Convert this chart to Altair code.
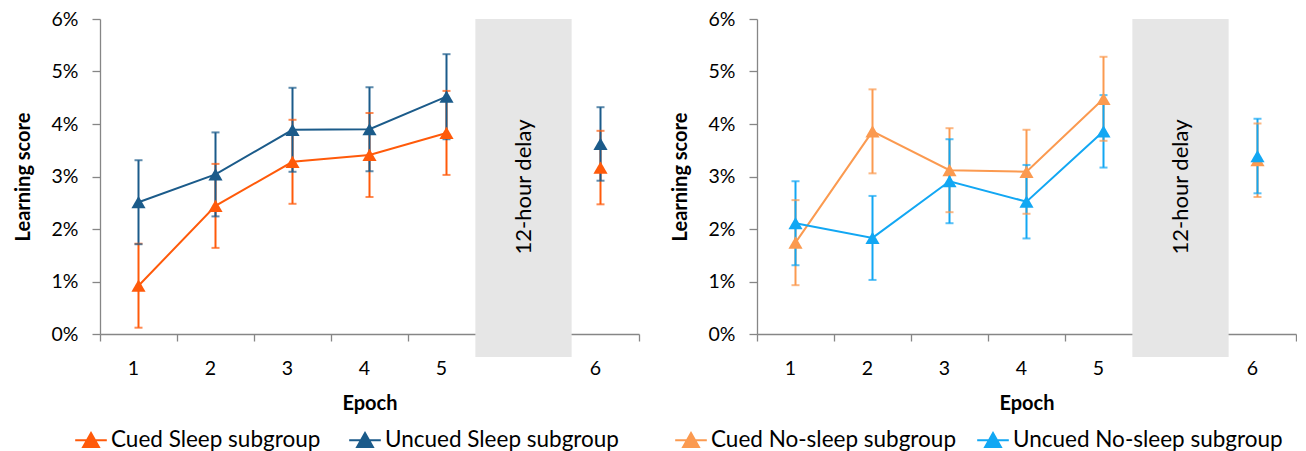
import altair as alt
import pandas as pd

FONT = "Lato"

epochs = ["1", "2", "3", "4", "5", "6"]
slots = ["1", "2", "3", "4", "5", "gap", "6"]

cued_sleep = [0.92, 2.44, 3.28, 3.41, 3.83, 3.17]
cued_sleep_err = [0.80, 0.80, 0.80, 0.80, 0.80, 0.70]
uncued_sleep = [2.51, 3.04, 3.89, 3.90, 4.52, 3.62]
uncued_sleep_err = [0.80, 0.80, 0.80, 0.80, 0.81, 0.70]

cued_nosleep = [1.74, 3.86, 3.12, 3.09, 4.48, 3.31]
cued_nosleep_err = [0.81, 0.80, 0.80, 0.80, 0.80, 0.70]
uncued_nosleep = [2.11, 1.83, 2.91, 2.52, 3.86, 3.39]
uncued_nosleep_err = [0.80, 0.80, 0.80, 0.70, 0.69, 0.71]

left_names = ["Cued Sleep subgroup", "Uncued Sleep subgroup"]
left_colors = ["#ff5a0a", "#1b5b8a"]
right_names = ["Cued No-sleep subgroup", "Uncued No-sleep subgroup"]
right_colors = ["#fb9a50", "#12a7f3"]

delay_label = "12-hour delay"

LEGEND_PATH = "M-1,0H1M0,-0.46L0.5,0.42L-0.5,0.42Z"


def make_df(names, series, errs):
    rows = []
    for name, vals, es in zip(names, series, errs):
        for ep, v, e in zip(epochs, vals, es):
            rows.append({"epoch": ep, "group": name, "score": v,
                         "lo": v - e, "hi": v + e})
    return pd.DataFrame(rows)


def panel(names, colors, series, errs, legend_x, col_pad):
    df = make_df(names, series, errs)
    base = alt.Chart(df)
    x = alt.X("epoch:N", scale=alt.Scale(domain=slots, paddingInner=0, paddingOuter=0),
              sort=slots,
              axis=alt.Axis(title="Epoch", labelExpr="datum.value == 'gap' ? '' : datum.value",
                            labelAngle=0, tickBand="extent", tickSize=7, labelPadding=27,
                            titlePadding=16))
    y = alt.Y("score:Q", scale=alt.Scale(domain=[0, 6], nice=False),
              axis=alt.Axis(title="Learning score", values=[0, 1, 2, 3, 4, 5, 6],
                            labelExpr="datum.value + '%'", tickSize=8, labelPadding=14,
                            titlePadding=18, grid=False))
    color = alt.Color("group:N", scale=alt.Scale(domain=names, range=colors),
                      sort=names,
                      legend=alt.Legend(title=None, orient="none", direction="horizontal",
                                        legendX=legend_x, legendY=404,
                                        symbolType=LEGEND_PATH, symbolSize=1000,
                                        symbolStrokeWidth=2, labelFontSize=22.5,
                                        labelFont=FONT, labelColor="#000000",
                                        columnPadding=col_pad, labelOffset=3, labelLimit=0,
                                        symbolOpacity=1))

    box = alt.Chart(pd.DataFrame({"slot": ["gap"]})).mark_bar(
        color="#e6e6e6", width=alt.RelativeBandSize(1.25)
    ).encode(x=alt.X("slot:N", scale=alt.Scale(domain=slots), sort=slots),
             y=alt.datum(6), y2=alt.datum(-0.44))
    txt = alt.Chart(pd.DataFrame({"slot": ["gap"], "t": [delay_label]})).mark_text(
        angle=270, font=FONT, fontSize=22, color="#000000"
    ).encode(x=alt.X("slot:N", scale=alt.Scale(domain=slots), sort=slots),
             y=alt.datum(2.8), text="t:N")

    bars = base.mark_rule(strokeWidth=2).encode(x=x, y="lo:Q", y2="hi:Q", color=color)
    caps_hi = base.mark_tick(orient="horizontal", thickness=2, size=8).encode(
        x=x, y="hi:Q", color=color)
    caps_lo = base.mark_tick(orient="horizontal", thickness=2, size=8).encode(
        x=x, y="lo:Q", color=color)
    line = base.transform_filter("datum.epoch != '6'").mark_line(strokeWidth=2).encode(
        x=x, y=y, color=color, detail="group:N")
    pts = base.mark_point(shape="triangle-up", filled=True, size=200, opacity=1).encode(
        x=x, y=y, color=color)

    return alt.layer(box, txt, bars, caps_hi, caps_lo, line, pts).properties(
        width=539, height=315)


left = panel(left_names, left_colors, [cued_sleep, uncued_sleep],
             [cued_sleep_err, uncued_sleep_err], -26, 24)
right = panel(right_names, right_colors, [cued_nosleep, uncued_nosleep],
              [cued_nosleep_err, uncued_nosleep_err], -83, 17)

chart = alt.hconcat(left, right, spacing=30).resolve_scale(color="independent").properties(
    padding={"left": 13, "top": 9, "right": 0, "bottom": 0}
).configure_view(stroke=None).configure_axis(
    labelFont=FONT, titleFont=FONT, labelFontSize=19.5, titleFontSize=20,
    labelColor="#000000", titleColor="#000000", domainColor="#868686",
    tickColor="#868686", domainWidth=1.3, tickWidth=1.3, titleFontWeight="bold"
)

chart.save("out.html", embed_options={"renderer": "svg", "actions": False})
